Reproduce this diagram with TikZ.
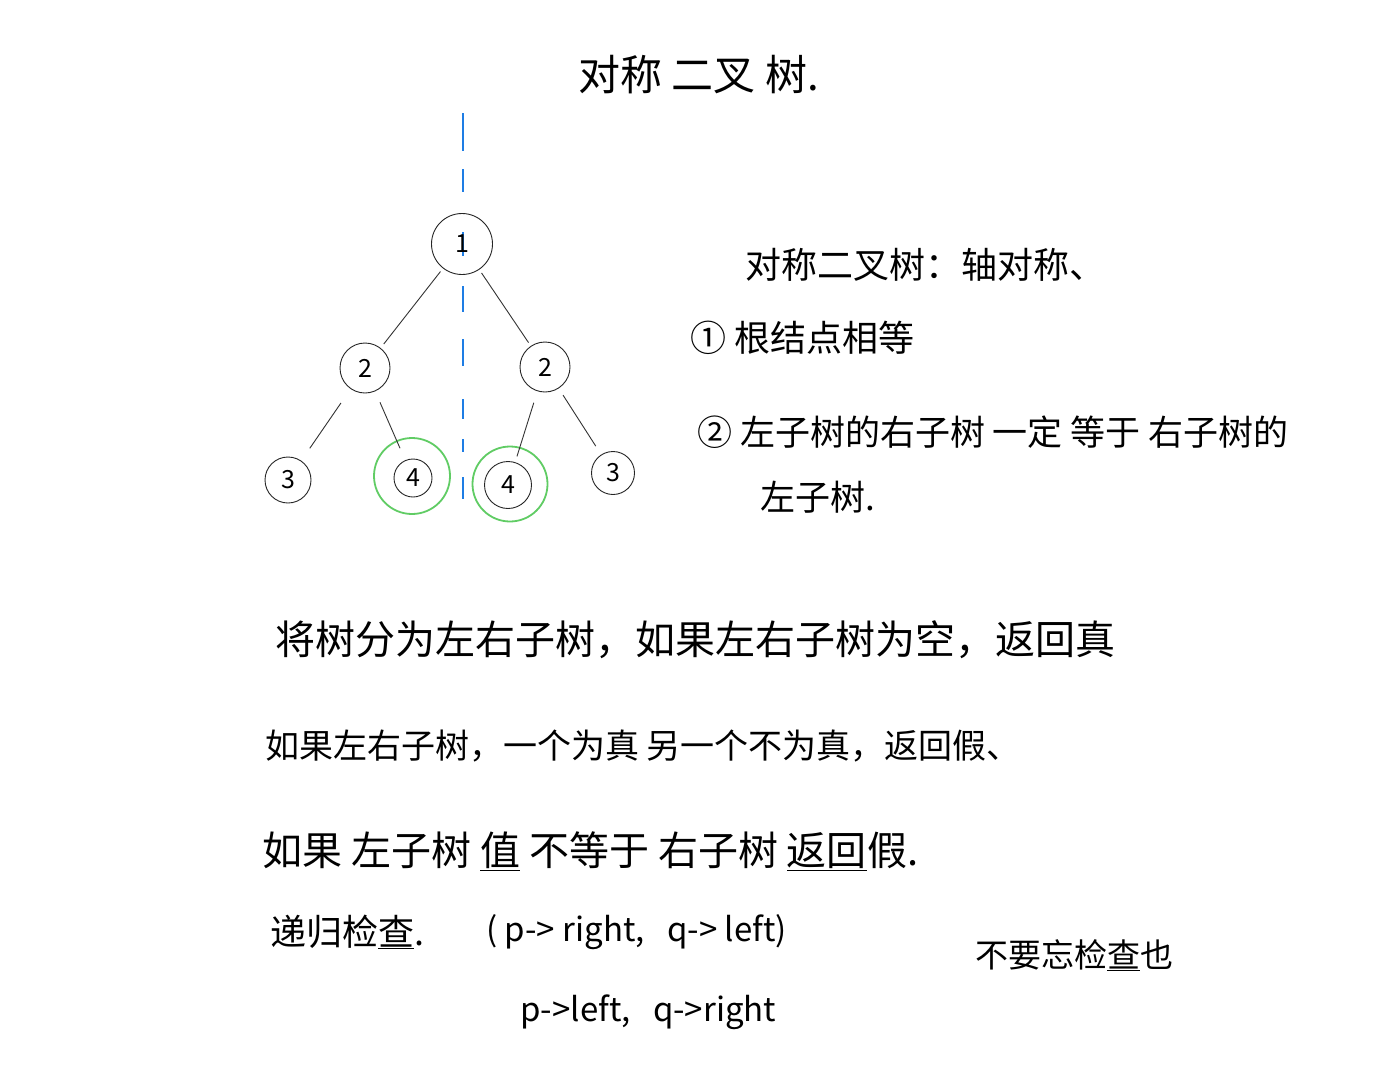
\documentclass[tikz,border=0pt]{standalone}
\usepackage{fontspec}
\newfontfamily\cjk{Noto Sans CJK SC}
\definecolor{axisblue}{RGB}{30,125,228}
\definecolor{hlgreen}{RGB}{96,204,100}
\tikzset{
  tnode/.style={circle, draw=black!85, line width=0.9pt, inner sep=0pt,
    font=\cjk\fontsize{25}{25}\selectfont},
  hl/.style={circle, draw=hlgreen, line width=1.8pt, inner sep=0pt},
  edge/.style={draw=black!80, line width=0.9pt},
  txt/.style={anchor=west, inner sep=0pt, text=black},
  axis/.style={draw=axisblue, line width=2.2pt,
    dash pattern=on 38pt off 18pt on 23pt off 40pt on 24pt off 30pt on 26pt off 27pt on 27pt off 33pt on 20pt off 20pt on 13pt off 25pt on 22pt off 20pt}
}
\newcommand{\fs}[1]{\cjk\fontsize{#1}{#1}\selectfont}
\begin{document}
\begin{tikzpicture}[x=1pt,y=-1pt]
\useasboundingbox (0,0) rectangle (1384,1079);
\fill[white] (0,0) rectangle (1384,1079);

% title
\node[txt, font=\fs{42}] (title) at (578,75) {对称\ 二叉\ 树.};

% symmetry axis
\coordinate (axtop) at (463,113);
\coordinate (axbot) at (463,502);
\draw[axis] (axtop) -- (axbot);

% tree
\node[tnode, minimum size=61pt] (r) at (462,244) {1};
\node[tnode, minimum size=50pt] (l2) at (365,368) {2};
\node[tnode, minimum size=50pt] (r2) at (545,367) {2};
\node[tnode, minimum size=46pt] (l3) at (288,480) {3};
\node[tnode, minimum size=38pt] (l4) at (413,478) {4};
\node[tnode, minimum size=47pt] (r4) at (508,485) {4};
\node[tnode, minimum size=43pt] (r3) at (613,473) {3};
\node[hl, minimum size=76pt] (g4l) at (412,476) {};
\node[hl, minimum size=75pt] (g4r) at (510,484) {};

\draw[edge, shorten <=4pt, shorten >=5pt] (r) -- (l2);
\draw[edge, shorten <=4pt, shorten >=4pt] (r) -- (r2);
\draw[edge, shorten <=17pt, shorten >=15pt] (l2) -- (l3);
\draw[edge, shorten <=12pt, shorten >=13pt] (l2) -- (l4);
\draw[edge, shorten <=12pt, shorten >=6pt] (r2) -- (r4);
\draw[edge, shorten <=8pt, shorten >=10pt] (r2) -- (r3);

% right notes
\node[txt, font=\fs{36}] (def) at (745,265) {对称二叉树：轴对称、};
\node[txt, font=\fs{36}] (c1) at (690,338) {① 根结点相等};
\node[txt, font=\fs{35}] (c2) at (697,432) {② 左子树的右子树\ 一定\ 等于\ 右子树的};
\node[txt, font=\fs{35}] (c2b) at (760,497) {左子树.};

% lower notes
\node[txt, font=\fs{40}] (s1) at (275,640) {将树分为左右子树，如果左右子树为空，返回真};
\node[txt, font=\fs{34}] (s2) at (265,746) {如果左右子树，一个为真\ 另一个不为真，返回假、};
\node[txt, font=\fs{40}] (s3) at (262,851) {如果\ 左子树\ \underline{值}\ 不等于\ 右子树\ \underline{返回}假.};
\node[txt, font=\fs{36}] (s4) at (270,932) {递归检\underline{查}.};
\node[txt, font=\fs{33}] (s4b) at (486,932) {(\ p->\ right,\ \ \ q->\ left)};
\node[txt, font=\fs{33}] (s5) at (520,1012) {p->left,\ \ \ q->right};
\node[txt, font=\fs{33}] (s6) at (975,955) {不要忘检\underline{查}也};
\end{tikzpicture}
\end{document}
